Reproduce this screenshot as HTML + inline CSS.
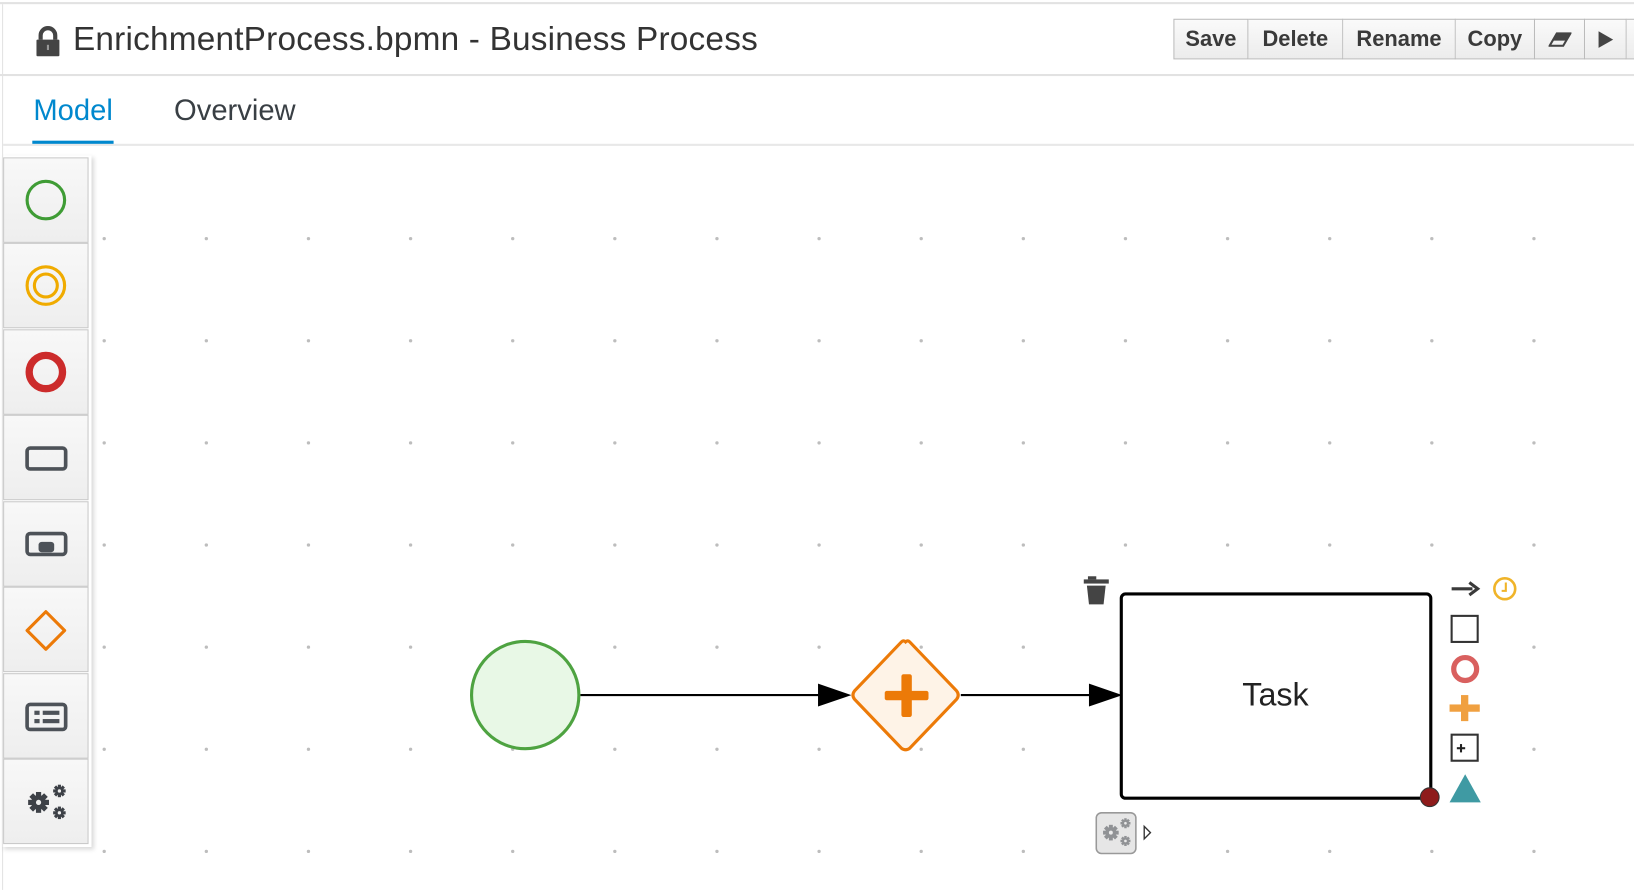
<!DOCTYPE html>
<html><head><meta charset="utf-8"><style>
html,body{margin:0;padding:0;width:1634px;height:890px;overflow:hidden;background:#fff;}
#w{position:absolute;left:0;top:0;width:1568px;height:854px;transform:scale(1.04209);transform-origin:0 0;font-family:"Liberation Sans",sans-serif;}
.abs{position:absolute;}
.btn{position:absolute;top:18px;height:39px;border:1px solid #bbb;background:linear-gradient(#fafafa,#ececec);font-weight:bold;font-size:21px;color:#3a3a3a;display:flex;align-items:center;justify-content:center;box-sizing:border-box;border-left:none;}
.pal{position:absolute;left:3px;width:82px;height:82px;box-sizing:border-box;border:1px solid #c8c8c8;background:linear-gradient(#f8f8f8,#eeeeee);}
</style></head><body><div id="w">
<div class="abs" style="left:0;top:2px;width:1568px;height:2px;background:#e2e2e2"></div>
<div class="abs" style="left:2px;top:4px;width:1px;height:850px;background:#e2e2e2"></div>
<div class="abs" style="left:0;top:71px;width:1568px;height:2px;background:#e2e2e2"></div>
<svg class="abs" style="left:34px;top:25px" width="24" height="30"><path d="M5 13 V9 a7 7 0 0 1 14 0 V13" fill="none" stroke="#444" stroke-width="4"/><rect x="1" y="13" width="22" height="16" rx="1" fill="#444"/><rect x="11" y="18" width="2" height="5" fill="#999"/></svg>
<div class="abs" style="left:70px;top:19px;font-size:32px;letter-spacing:0.2px;color:#333;white-space:nowrap">EnrichmentProcess.bpmn - Business Process</div>
<div class="btn" style="left:1126px;width:72px;border-left:1px solid #bbb">Save</div>
<div class="btn" style="left:1198px;width:91px">Delete</div>
<div class="btn" style="left:1289px;width:108px">Rename</div>
<div class="btn" style="left:1397px;width:76px">Copy</div>
<div class="btn" style="left:1473px;width:48px"><svg width="22" height="14"><path d="M8 1 H21 L14 13 H1 Z" fill="none" stroke="#444" stroke-width="2"/><path d="M8 1 H21 L17 8 H4 Z" fill="#444"/></svg></div>
<div class="btn" style="left:1521px;width:40px"><svg width="16" height="18"><path d="M1 1 L15 9 L1 17 Z" fill="#444"/></svg></div>
<div class="btn" style="left:1561px;width:20px"></div>
<div class="abs" style="left:32px;top:90px;font-size:28px;color:#0088ce">Model</div>
<div class="abs" style="left:31px;top:135px;width:78px;height:4px;background:#0088ce"></div>
<div class="abs" style="left:167px;top:90px;font-size:28px;color:#393f44">Overview</div>
<div class="abs" style="left:3px;top:138px;width:1565px;height:2px;background:#e8e8e8"></div>
<svg class="abs" style="left:0;top:0" width="1568" height="854">
<defs>
<g id="gear"><circle r="7" fill="#3d4147"/><g fill="#3d4147"><rect x="-2.5" y="-10" width="5" height="20"/><rect x="-2.5" y="-10" width="5" height="20" transform="rotate(45)"/><rect x="-2.5" y="-10" width="5" height="20" transform="rotate(90)"/><rect x="-2.5" y="-10" width="5" height="20" transform="rotate(135)"/></g><circle r="2.5" fill="#eee"/></g>
<g id="sgear"><circle r="4" fill="#3d4147"/><g fill="#3d4147"><rect x="-1.5" y="-6" width="3" height="12"/><rect x="-1.5" y="-6" width="3" height="12" transform="rotate(45)"/><rect x="-1.5" y="-6" width="3" height="12" transform="rotate(90)"/><rect x="-1.5" y="-6" width="3" height="12" transform="rotate(135)"/></g><circle r="1.6" fill="#eee"/></g>
</defs>
<g fill="#bdbdbd">
<circle cx="100" cy="229" r="1.6"/><circle cx="198" cy="229" r="1.6"/><circle cx="296" cy="229" r="1.6"/><circle cx="394" cy="229" r="1.6"/><circle cx="492" cy="229" r="1.6"/><circle cx="590" cy="229" r="1.6"/><circle cx="688" cy="229" r="1.6"/><circle cx="786" cy="229" r="1.6"/><circle cx="884" cy="229" r="1.6"/><circle cx="982" cy="229" r="1.6"/><circle cx="1080" cy="229" r="1.6"/><circle cx="1178" cy="229" r="1.6"/><circle cx="1276" cy="229" r="1.6"/><circle cx="1374" cy="229" r="1.6"/><circle cx="1472" cy="229" r="1.6"/>
<circle cx="100" cy="327" r="1.6"/><circle cx="198" cy="327" r="1.6"/><circle cx="296" cy="327" r="1.6"/><circle cx="394" cy="327" r="1.6"/><circle cx="492" cy="327" r="1.6"/><circle cx="590" cy="327" r="1.6"/><circle cx="688" cy="327" r="1.6"/><circle cx="786" cy="327" r="1.6"/><circle cx="884" cy="327" r="1.6"/><circle cx="982" cy="327" r="1.6"/><circle cx="1080" cy="327" r="1.6"/><circle cx="1178" cy="327" r="1.6"/><circle cx="1276" cy="327" r="1.6"/><circle cx="1374" cy="327" r="1.6"/><circle cx="1472" cy="327" r="1.6"/>
<circle cx="100" cy="425" r="1.6"/><circle cx="198" cy="425" r="1.6"/><circle cx="296" cy="425" r="1.6"/><circle cx="394" cy="425" r="1.6"/><circle cx="492" cy="425" r="1.6"/><circle cx="590" cy="425" r="1.6"/><circle cx="688" cy="425" r="1.6"/><circle cx="786" cy="425" r="1.6"/><circle cx="884" cy="425" r="1.6"/><circle cx="982" cy="425" r="1.6"/><circle cx="1080" cy="425" r="1.6"/><circle cx="1178" cy="425" r="1.6"/><circle cx="1276" cy="425" r="1.6"/><circle cx="1374" cy="425" r="1.6"/><circle cx="1472" cy="425" r="1.6"/>
<circle cx="100" cy="523" r="1.6"/><circle cx="198" cy="523" r="1.6"/><circle cx="296" cy="523" r="1.6"/><circle cx="394" cy="523" r="1.6"/><circle cx="492" cy="523" r="1.6"/><circle cx="590" cy="523" r="1.6"/><circle cx="688" cy="523" r="1.6"/><circle cx="786" cy="523" r="1.6"/><circle cx="884" cy="523" r="1.6"/><circle cx="982" cy="523" r="1.6"/><circle cx="1080" cy="523" r="1.6"/><circle cx="1178" cy="523" r="1.6"/><circle cx="1276" cy="523" r="1.6"/><circle cx="1374" cy="523" r="1.6"/><circle cx="1472" cy="523" r="1.6"/>
<circle cx="100" cy="621" r="1.6"/><circle cx="198" cy="621" r="1.6"/><circle cx="296" cy="621" r="1.6"/><circle cx="394" cy="621" r="1.6"/><circle cx="492" cy="621" r="1.6"/><circle cx="590" cy="621" r="1.6"/><circle cx="688" cy="621" r="1.6"/><circle cx="786" cy="621" r="1.6"/><circle cx="884" cy="621" r="1.6"/><circle cx="982" cy="621" r="1.6"/><circle cx="1472" cy="621" r="1.6"/>
<circle cx="100" cy="719" r="1.6"/><circle cx="198" cy="719" r="1.6"/><circle cx="296" cy="719" r="1.6"/><circle cx="394" cy="719" r="1.6"/><circle cx="492" cy="719" r="1.6"/><circle cx="590" cy="719" r="1.6"/><circle cx="688" cy="719" r="1.6"/><circle cx="786" cy="719" r="1.6"/><circle cx="884" cy="719" r="1.6"/><circle cx="982" cy="719" r="1.6"/><circle cx="1472" cy="719" r="1.6"/>
<circle cx="100" cy="817" r="1.6"/><circle cx="198" cy="817" r="1.6"/><circle cx="296" cy="817" r="1.6"/><circle cx="394" cy="817" r="1.6"/><circle cx="492" cy="817" r="1.6"/><circle cx="590" cy="817" r="1.6"/><circle cx="688" cy="817" r="1.6"/><circle cx="786" cy="817" r="1.6"/><circle cx="884" cy="817" r="1.6"/><circle cx="982" cy="817" r="1.6"/><circle cx="1178" cy="817" r="1.6"/><circle cx="1276" cy="817" r="1.6"/><circle cx="1374" cy="817" r="1.6"/><circle cx="1472" cy="817" r="1.6"/>
</g>
<line x1="557" y1="667" x2="790" y2="667" stroke="#000" stroke-width="2"/>
<path d="M785 656 L817 667 L785 678 Z" fill="#000"/>
<line x1="922" y1="667" x2="1050" y2="667" stroke="#000" stroke-width="2"/>
<path d="M1045 656 L1077 667 L1045 678 Z" fill="#000"/>
<circle cx="504" cy="667" r="51.5" fill="#e8f8e6" stroke="#4ea341" stroke-width="3"/>
<path d="M869 616 Q871 614 873 616 L918 663 Q921 667 918 671 L873 718 Q869 721 865 718 L820 671 Q817 667 820 663 L865 616 Q867 614 869 616Z" fill="#fef3e7" stroke="#ec7a08" stroke-width="3"/>
<rect x="849" y="663" width="42" height="9" rx="2" fill="#ec7a08"/>
<rect x="865" y="647" width="10" height="41" rx="2" fill="#ec7a08"/>
<rect x="1076" y="570" width="297" height="196" rx="4" fill="#fff" stroke="#000" stroke-width="3"/>
<text x="1224" y="677" font-size="31" text-anchor="middle" fill="#222" font-family="Liberation Sans, sans-serif">Task</text>
<circle cx="1372" cy="765" r="9" fill="#8e1b1b" stroke="#333" stroke-width="1"/>
<rect x="1044" y="553" width="8" height="3" fill="#444"/><rect x="1040" y="556" width="24" height="4" fill="#444"/><path d="M1043 562 H1061 L1059 580 H1045 Z" fill="#444"/>
<line x1="1393" y1="565" x2="1413" y2="565" stroke="#3a3a3a" stroke-width="3"/><path d="M1410 559 L1418 565 L1410 571" fill="none" stroke="#3a3a3a" stroke-width="3"/>
<circle cx="1444" cy="565" r="10" fill="none" stroke="#f0b429" stroke-width="2.5"/><path d="M1445 559 V567 H1441" fill="none" stroke="#f0b429" stroke-width="2"/>
<rect x="1393" y="591" width="25" height="25" fill="#fff" stroke="#333" stroke-width="2"/>
<circle cx="1406" cy="642" r="11" fill="none" stroke="#d9605f" stroke-width="5"/>
<rect x="1391" y="676" width="29" height="7" fill="#f0a040"/><rect x="1402" y="667" width="7" height="25" fill="#f0a040"/>
<rect x="1393" y="705" width="25" height="25" fill="#fff" stroke="#333" stroke-width="2"/>
<rect x="1398" y="717" width="8" height="2" fill="#222"/><rect x="1401" y="714" width="2" height="8" fill="#222"/>
<path d="M1406 743 L1421 770 H1391 Z" fill="#3f9aa3"/>
<rect x="1052" y="780" width="38" height="39" rx="5" fill="#e6e6e6" stroke="#999" stroke-width="1.5"/>
<g opacity="0.5"><use href="#gear" transform="translate(1066,799) scale(0.75)"/><use href="#sgear" transform="translate(1080,790) scale(0.8)"/><use href="#sgear" transform="translate(1080,807) scale(0.8)"/></g>
<path d="M1098 793 L1104 799 L1098 805 Z" fill="#fff" stroke="#333" stroke-width="1.3"/>
</svg>
<div class="abs" style="left:2px;top:149px;width:86px;height:664px;box-shadow:2px 2px 4px rgba(0,0,0,.15)"></div>
<div class="pal" style="top:151px"></div><div class="pal" style="top:233px"></div><div class="pal" style="top:316px"></div><div class="pal" style="top:398px"></div><div class="pal" style="top:481px"></div><div class="pal" style="top:563px"></div><div class="pal" style="top:646px"></div><div class="pal" style="top:728px"></div>
<svg class="abs" style="left:0;top:0" width="100" height="854">
<defs>
<g id="gear2"><circle r="7" fill="#3d4147"/><g fill="#3d4147"><rect x="-2.5" y="-10" width="5" height="20"/><rect x="-2.5" y="-10" width="5" height="20" transform="rotate(45)"/><rect x="-2.5" y="-10" width="5" height="20" transform="rotate(90)"/><rect x="-2.5" y="-10" width="5" height="20" transform="rotate(135)"/></g><circle r="2.5" fill="#eee"/></g>
<g id="sgear2"><circle r="4" fill="#3d4147"/><g fill="#3d4147"><rect x="-1.5" y="-6" width="3" height="12"/><rect x="-1.5" y="-6" width="3" height="12" transform="rotate(45)"/><rect x="-1.5" y="-6" width="3" height="12" transform="rotate(90)"/><rect x="-1.5" y="-6" width="3" height="12" transform="rotate(135)"/></g><circle r="1.6" fill="#eee"/></g>
</defs>
<circle cx="44" cy="192" r="18" fill="none" stroke="#3f9c35" stroke-width="3"/>
<circle cx="44" cy="274" r="18" fill="none" stroke="#f0ab00" stroke-width="3"/><circle cx="44" cy="274" r="11" fill="none" stroke="#f0ab00" stroke-width="3"/>
<circle cx="44" cy="357" r="16" fill="none" stroke="#cc2b2b" stroke-width="7"/>
<rect x="26" y="430" width="37" height="20" rx="3" fill="none" stroke="#4d5258" stroke-width="3.5"/>
<rect x="26" y="512" width="37" height="20" rx="3" fill="none" stroke="#4d5258" stroke-width="3.5"/><rect x="37" y="520" width="15" height="10" rx="3" fill="#4d5258"/>
<path d="M44 587 L62 605 L44 623 L26 605 Z" fill="none" stroke="#ec7a08" stroke-width="3" stroke-linejoin="round"/>
<rect x="26" y="676" width="37" height="24" rx="3" fill="none" stroke="#4d5258" stroke-width="3.5"/>
<rect x="33" y="682" width="5" height="4" fill="#4d5258"/><rect x="41" y="682" width="16" height="4" fill="#4d5258"/><rect x="33" y="690" width="5" height="4" fill="#4d5258"/><rect x="41" y="690" width="16" height="4" fill="#4d5258"/>
<use href="#gear2" transform="translate(37,770)"/>
<use href="#sgear2" transform="translate(57,759)"/>
<use href="#sgear2" transform="translate(57,780)"/>
</svg>
</div></body></html>
